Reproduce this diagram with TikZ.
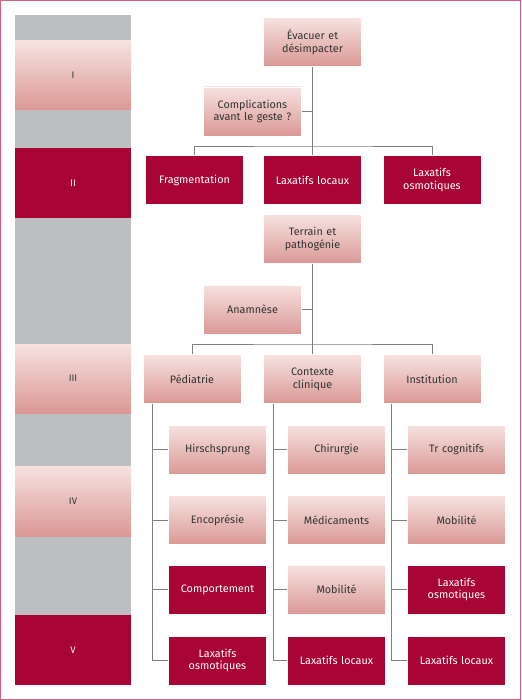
\documentclass[tikz,border=0pt]{standalone}
\usepackage{fontspec}
\setmainfont{Fira Sans}
\definecolor{gtop}{HTML}{F6E2E0}
\definecolor{gbot}{HTML}{DA9895}
\definecolor{dred}{HTML}{A90534}
\definecolor{gband}{HTML}{BDBEC2}
\definecolor{frame}{HTML}{D2627F}
\definecolor{txt}{HTML}{333333}
\definecolor{conn}{HTML}{7F7F7F}
\tikzset{
  base/.style={rectangle, minimum width=98pt, minimum height=49pt, text width=94pt, align=center, font=\fontsize{10.8}{12.8}\selectfont, inner sep=0pt, draw=white, line width=0.6pt},
  grad/.style={base, top color=gtop, bottom color=gbot, text=txt},
  dark/.style={base, fill=dred, text=white},
  conline/.style={draw=conn, line width=0.9pt},
  roman/.style={font=\fontsize{9.5}{11}\selectfont, inner sep=0pt}
}
\begin{document}
\begin{tikzpicture}[x=1pt,y=-1pt]
\useasboundingbox (0,0) rectangle (521,700);
\draw[frame, line width=1.4pt] (0.7,0.7) rectangle (520.3,699.3);
% left column
\fill[gband] (15,15) rectangle (131,685);
\shade[top color=gtop, bottom color=gbot] (15,41) rectangle (131,110);
\fill[dred] (15,148) rectangle (131,218);
\shade[top color=gtop, bottom color=gbot] (15,344) rectangle (131,413);
\shade[top color=gtop, bottom color=gbot] (15,466) rectangle (131,536);
\fill[dred] (15,615) rectangle (131,685);
\node[roman, text=txt] (rI) at (73,75.5) {I};
\node[roman, text=white] (rII) at (73,183) {II};
\node[roman, text=txt] (rIII) at (73,378.5) {III};
\node[roman, text=txt] (rIV) at (73,501) {IV};
\node[roman, text=white] (rV) at (73,650) {V};
% top tree
\node[grad] (ev) at (312.5,42) {Évacuer et\\désimpacter};
\node[grad] (comp) at (252.5,111.5) {Complications\\avant le geste ?};
\node[dark] (frag) at (194.5,180) {Fragmentation};
\node[dark] (ll1) at (312.5,180) {Laxatifs locaux};
\node[dark] (lo1) at (432,180) {Laxatifs\\osmotiques};
\coordinate (b1) at (312.5,146);
\draw[conline] (ev.south) -- (b1);
\draw[conline] (comp.east) -- (comp.east -| b1);
\draw[conline] (frag.north) |- (b1) -| (lo1.north);
\draw[conline] (b1) -- (ll1.north);
% second tree
\node[grad] (ter) at (312.5,239) {Terrain et\\pathogénie};
\node[grad] (ana) at (252.5,309.5) {Anamnèse};
\node[grad] (ped) at (192,379) {Pédiatrie};
\node[grad] (ctx) at (312.5,379) {Contexte\\clinique};
\node[grad] (ins) at (432,379) {Institution};
\coordinate (b2) at (312.5,344);
\draw[conline] (ter.south) -- (b2);
\draw[conline] (ana.east) -- (ana.east -| b2);
\draw[conline] (ped.north) |- (b2) -| (ins.north);
\draw[conline] (b2) -- (ctx.north);
% column 1
\node[grad] (hir) at (217.5,449.5) {Hirschsprung};
\node[grad] (enc) at (217.5,520) {Encoprésie};
\node[dark] (com) at (217.5,589.5) {Comportement};
\node[dark] (lo2) at (217.5,660.5) {Laxatifs\\osmotiques};
% column 2
\node[grad] (chi) at (336.5,449.5) {Chirurgie};
\node[grad] (med) at (336.5,520) {Médicaments};
\node[grad] (mob1) at (336.5,589.5) {Mobilité};
\node[dark] (ll2) at (336.5,660.5) {Laxatifs locaux};
% column 3
\node[grad] (trc) at (456.5,449.5) {Tr cognitifs};
\node[grad] (mob2) at (456.5,520) {Mobilité};
\node[dark] (lo3) at (456.5,589.5) {Laxatifs\\osmotiques};
\node[dark] (ll3) at (456.5,660.5) {Laxatifs locaux};
% column connectors
\coordinate (p1) at ([xshift=10pt]ped.south west);
\coordinate (p2) at ([xshift=10pt]ctx.south west);
\coordinate (p3) at ([xshift=9pt]ins.south west);
\draw[conline] (p1) |- (lo2.west);
\draw[conline] (hir.west) -- (hir.west -| p1);
\draw[conline] (enc.west) -- (enc.west -| p1);
\draw[conline] (com.west) -- (com.west -| p1);
\draw[conline] (p2) |- (ll2.west);
\draw[conline] (chi.west) -- (chi.west -| p2);
\draw[conline] (med.west) -- (med.west -| p2);
\draw[conline] (mob1.west) -- (mob1.west -| p2);
\draw[conline] (p3) |- (ll3.west);
\draw[conline] (trc.west) -- (trc.west -| p3);
\draw[conline] (mob2.west) -- (mob2.west -| p3);
\draw[conline] (lo3.west) -- (lo3.west -| p3);
\end{tikzpicture}
\end{document}
